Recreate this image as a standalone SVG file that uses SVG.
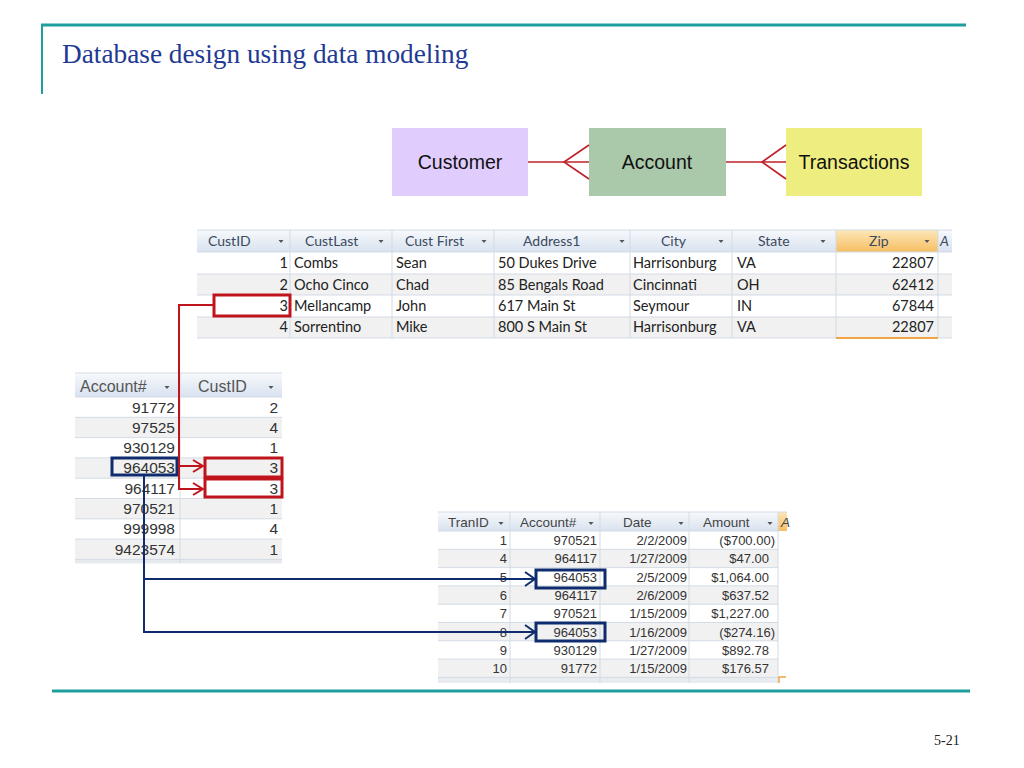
<svg xmlns="http://www.w3.org/2000/svg" width="1024" height="768" viewBox="0 0 1024 768">
<defs>
<linearGradient id="hdr" x1="0" y1="0" x2="0" y2="1">
<stop offset="0" stop-color="#f7f9fc"/><stop offset="1" stop-color="#d8e2ef"/>
</linearGradient>
<linearGradient id="hdrO" x1="0" y1="0" x2="0" y2="1">
<stop offset="0" stop-color="#fde7b8"/><stop offset="1" stop-color="#f6be62"/>
</linearGradient>
<marker id="chevR" viewBox="0 0 12 14" refX="11" refY="7" markerWidth="12" markerHeight="14" markerUnits="userSpaceOnUse" orient="auto">
<polyline points="1,1 11,7 1,13" fill="none" stroke="#c0141c" stroke-width="2"/>
</marker>
<marker id="chevB" viewBox="0 0 12 16" refX="11" refY="8" markerWidth="12" markerHeight="16" markerUnits="userSpaceOnUse" orient="auto">
<polyline points="1,1 11,8 1,15" fill="none" stroke="#0f2d6e" stroke-width="2"/>
</marker>
</defs>
<style>
.title{font-family:"Liberation Serif",serif;font-size:27.3px;fill:#1f3a93}
.pg{font-family:"Liberation Serif",serif;font-size:14px;fill:#222}
.er{font-family:"Liberation Sans",Arial,sans-serif;font-size:19.5px;fill:#111;text-anchor:middle}
.ch{font-family:Lato,"Liberation Sans",sans-serif;font-size:14px;fill:#3c4a60}
.cb{font-family:Lato,"Liberation Sans",sans-serif;font-size:14.5px;fill:#222}
.ah{font-family:"Liberation Sans",Arial,sans-serif;font-size:16px;fill:#555}
.ab{font-family:"Liberation Sans",Arial,sans-serif;font-size:15.5px;fill:#333;text-anchor:end}
.th{font-family:"Liberation Sans",Arial,sans-serif;font-size:13.5px;fill:#444}
.tb{font-family:"Liberation Sans",Arial,sans-serif;font-size:13px;fill:#333;text-anchor:end}
.r{text-anchor:end}
.grid{stroke:#d3dbe6;stroke-width:1}
.alt{fill:#f1f1f1}
.dd{fill:#555}
.redbox{fill:none;stroke:#c0141c;stroke-width:3}
.bluebox{fill:none;stroke:#0f2d6e;stroke-width:3}
.crow{fill:none;stroke:#c0202a;stroke-width:1.6}
</style>
<rect width="1024" height="768" fill="#ffffff"/>

<!-- slide frame -->
<g id="frame">
<line x1="41" y1="25" x2="966" y2="25" stroke="#1f9e9e" stroke-width="3"/>
<line x1="42" y1="24" x2="42" y2="94" stroke="#1f9e9e" stroke-width="2"/>
<line x1="52" y1="691" x2="970" y2="691" stroke="#1f9e9e" stroke-width="3"/>
<text class="title" x="62" y="63">Database design using data modeling</text>
<text class="pg" x="934" y="745">5-21</text>
</g>

<!-- ER nodes -->
<g id="er-customer">
<rect x="392" y="128" width="136" height="68" fill="#e0ccfd"/>
<text class="er" x="460" y="169">Customer</text>
</g>
<g id="er-account">
<rect x="589" y="128" width="137" height="68" fill="#aac8aa"/>
<text class="er" x="657" y="169">Account</text>
</g>
<g id="er-transactions">
<rect x="786" y="128" width="136" height="68" fill="#eeee80"/>
<text class="er" x="854" y="169">Transactions</text>
</g>

<!-- Customer table -->
<g id="customer-table">
<rect x="197" y="230" width="755" height="22" fill="url(#hdr)"/>
<rect x="836" y="230" width="102" height="22" fill="url(#hdrO)"/>
<rect x="197" y="252" width="755" height="22" fill="#fff"/>
<rect class="alt" x="197" y="274" width="755" height="21"/>
<rect x="197" y="295" width="755" height="22" fill="#fff"/>
<rect class="alt" x="197" y="317" width="755" height="21"/>
<g class="grid">
<line x1="197" y1="230" x2="952" y2="230"/>
<line x1="197" y1="252" x2="952" y2="252"/>
<line x1="197" y1="274" x2="952" y2="274"/>
<line x1="197" y1="295" x2="952" y2="295"/>
<line x1="197" y1="317" x2="952" y2="317"/>
<line x1="197" y1="338" x2="952" y2="338"/>
<line x1="290" y1="230" x2="290" y2="338"/>
<line x1="392" y1="230" x2="392" y2="338"/>
<line x1="494" y1="230" x2="494" y2="338"/>
<line x1="630" y1="230" x2="630" y2="338"/>
<line x1="732" y1="230" x2="732" y2="338"/>
<line x1="836" y1="230" x2="836" y2="338"/>
<line x1="938" y1="230" x2="938" y2="338"/>
</g>
<line x1="836" y1="338" x2="938" y2="338" stroke="#f2a444" stroke-width="2"/>
<text class="ch" x="208" y="246">CustID</text>
<text class="ch" x="305" y="246">CustLast</text>
<text class="ch" x="405" y="246">Cust First</text>
<text class="ch" x="523" y="246">Address1</text>
<text class="ch" x="661" y="246">City</text>
<text class="ch" x="758" y="246">State</text>
<text class="ch" x="869" y="246">Zip</text>
<text class="ch" x="940" y="246" font-style="italic">A</text>
<g class="dd">
<polygon points="278.5,240 283.5,240 281,243"/>
<polygon points="378.5,240 383.5,240 381,243"/>
<polygon points="481.5,240 486.5,240 484,243"/>
<polygon points="619.5,240 624.5,240 622,243"/>
<polygon points="718.5,240 723.5,240 721,243"/>
<polygon points="820.5,240 825.5,240 823,243"/>
<polygon points="924.5,240 929.5,240 927,243"/>
</g>
<text class="cb r" x="288" y="268">1</text>
<text class="cb" x="294" y="268">Combs</text>
<text class="cb" x="396" y="268">Sean</text>
<text class="cb" x="498" y="268">50 Dukes Drive</text>
<text class="cb" x="633" y="268">Harrisonburg</text>
<text class="cb" x="737" y="268">VA</text>
<text class="cb r" x="934" y="268">22807</text>
<text class="cb r" x="288" y="290">2</text>
<text class="cb" x="294" y="290">Ocho Cinco</text>
<text class="cb" x="396" y="290">Chad</text>
<text class="cb" x="498" y="290">85 Bengals Road</text>
<text class="cb" x="633" y="290">Cincinnati</text>
<text class="cb" x="737" y="290">OH</text>
<text class="cb r" x="934" y="290">62412</text>
<text class="cb r" x="288" y="311">3</text>
<text class="cb" x="294" y="311">Mellancamp</text>
<text class="cb" x="396" y="311">John</text>
<text class="cb" x="498" y="311">617 Main St</text>
<text class="cb" x="633" y="311">Seymour</text>
<text class="cb" x="737" y="311">IN</text>
<text class="cb r" x="934" y="311">67844</text>
<text class="cb r" x="288" y="332">4</text>
<text class="cb" x="294" y="332">Sorrentino</text>
<text class="cb" x="396" y="332">Mike</text>
<text class="cb" x="498" y="332">800 S Main St</text>
<text class="cb" x="633" y="332">Harrisonburg</text>
<text class="cb" x="737" y="332">VA</text>
<text class="cb r" x="934" y="332">22807</text>
</g>

<!-- Account table -->
<g id="account-table">
<rect x="75" y="373" width="207" height="24" fill="url(#hdr)"/>
<rect x="75" y="397" width="207" height="166" fill="#fff"/>
<rect class="alt" x="75" y="417.3" width="207" height="20.3"/>
<rect class="alt" x="75" y="457.9" width="207" height="20.3"/>
<rect class="alt" x="75" y="498.5" width="207" height="20.3"/>
<rect class="alt" x="75" y="539.1" width="207" height="20.3"/>
<rect x="75" y="559.4" width="207" height="4" fill="#e6e9ee"/>
<g class="grid">
<line x1="75" y1="373" x2="282" y2="373"/>
<line x1="75" y1="397" x2="282" y2="397"/>
<line x1="75" y1="417.3" x2="282" y2="417.3"/>
<line x1="75" y1="437.6" x2="282" y2="437.6"/>
<line x1="75" y1="457.9" x2="282" y2="457.9"/>
<line x1="75" y1="478.2" x2="282" y2="478.2"/>
<line x1="75" y1="498.5" x2="282" y2="498.5"/>
<line x1="75" y1="518.8" x2="282" y2="518.8"/>
<line x1="75" y1="539.1" x2="282" y2="539.1"/>
<line x1="75" y1="559.4" x2="282" y2="559.4"/>
<line x1="180" y1="373" x2="180" y2="563"/>
</g>
<text class="ah" x="80" y="392">Account#</text>
<text class="ah" x="198" y="392">CustID</text>
<g class="dd">
<polygon points="164.5,386 169.5,386 167,389"/>
<polygon points="268.5,386 273.5,386 271,389"/>
</g>
<text class="ab" x="175" y="412.5">91772</text>
<text class="ab" x="278" y="412.5">2</text>
<text class="ab" x="175" y="432.8">97525</text>
<text class="ab" x="278" y="432.8">4</text>
<text class="ab" x="175" y="453.1">930129</text>
<text class="ab" x="278" y="453.1">1</text>
<text class="ab" x="175" y="473.4">964053</text>
<text class="ab" x="278" y="473.4">3</text>
<text class="ab" x="175" y="493.7">964117</text>
<text class="ab" x="278" y="493.7">3</text>
<text class="ab" x="175" y="514">970521</text>
<text class="ab" x="278" y="514">1</text>
<text class="ab" x="175" y="534.3">999998</text>
<text class="ab" x="278" y="534.3">4</text>
<text class="ab" x="175" y="554.6">9423574</text>
<text class="ab" x="278" y="554.6">1</text>
</g>

<!-- Transactions table -->
<g id="transactions-table">
<rect x="438" y="512" width="349" height="19" fill="url(#hdr)"/>
<rect x="778" y="512" width="9" height="19" fill="url(#hdrO)"/>
<rect x="438" y="531" width="340" height="152" fill="#fff"/>
<rect class="alt" x="438" y="549.3" width="340" height="18.3"/>
<rect class="alt" x="438" y="585.9" width="340" height="18.3"/>
<rect class="alt" x="438" y="622.5" width="340" height="18.3"/>
<rect class="alt" x="438" y="659.1" width="340" height="18.3"/>
<rect x="438" y="677.4" width="340" height="5.6" fill="#e8ebf0"/>
<g class="grid">
<line x1="438" y1="512" x2="787" y2="512"/>
<line x1="438" y1="531" x2="778" y2="531"/>
<line x1="438" y1="549.3" x2="778" y2="549.3"/>
<line x1="438" y1="567.6" x2="778" y2="567.6"/>
<line x1="438" y1="585.9" x2="778" y2="585.9"/>
<line x1="438" y1="604.2" x2="778" y2="604.2"/>
<line x1="438" y1="622.5" x2="778" y2="622.5"/>
<line x1="438" y1="640.8" x2="778" y2="640.8"/>
<line x1="438" y1="659.1" x2="778" y2="659.1"/>
<line x1="438" y1="677.4" x2="778" y2="677.4"/>
<line x1="510" y1="512" x2="510" y2="683"/>
<line x1="600" y1="512" x2="600" y2="683"/>
<line x1="689" y1="512" x2="689" y2="683"/>
<line x1="778" y1="512" x2="778" y2="683"/>
</g>
<polyline points="779,683 779,677 786,677" fill="none" stroke="#f2a444" stroke-width="1.5"/>
<text class="th" x="448" y="527">TranID</text>
<text class="th" x="520" y="527">Account#</text>
<text class="th" x="623" y="527">Date</text>
<text class="th" x="703" y="527">Amount</text>
<text class="th" x="781" y="527" font-style="italic">A</text>
<g class="dd">
<polygon points="498.5,522 503.5,522 501,525"/>
<polygon points="588.5,522 593.5,522 591,525"/>
<polygon points="678.5,522 683.5,522 681,525"/>
<polygon points="767.5,522 772.5,522 770,525"/>
</g>
<text class="tb" x="507" y="545">1</text><text class="tb" x="597" y="545">970521</text><text class="tb" x="687" y="545">2/2/2009</text><text class="tb" x="775" y="545">($700.00)</text>
<text class="tb" x="507" y="563.3">4</text><text class="tb" x="597" y="563.3">964117</text><text class="tb" x="687" y="563.3">1/27/2009</text><text class="tb" x="769" y="563.3">$47.00</text>
<text class="tb" x="507" y="581.6">5</text><text class="tb" x="597" y="581.6">964053</text><text class="tb" x="687" y="581.6">2/5/2009</text><text class="tb" x="769" y="581.6">$1,064.00</text>
<text class="tb" x="507" y="599.9">6</text><text class="tb" x="597" y="599.9">964117</text><text class="tb" x="687" y="599.9">2/6/2009</text><text class="tb" x="769" y="599.9">$637.52</text>
<text class="tb" x="507" y="618.2">7</text><text class="tb" x="597" y="618.2">970521</text><text class="tb" x="687" y="618.2">1/15/2009</text><text class="tb" x="769" y="618.2">$1,227.00</text>
<text class="tb" x="507" y="636.5">8</text><text class="tb" x="597" y="636.5">964053</text><text class="tb" x="687" y="636.5">1/16/2009</text><text class="tb" x="775" y="636.5">($274.16)</text>
<text class="tb" x="507" y="654.8">9</text><text class="tb" x="597" y="654.8">930129</text><text class="tb" x="687" y="654.8">1/27/2009</text><text class="tb" x="769" y="654.8">$892.78</text>
<text class="tb" x="507" y="673.1">10</text><text class="tb" x="597" y="673.1">91772</text><text class="tb" x="687" y="673.1">1/15/2009</text><text class="tb" x="769" y="673.1">$176.57</text>
</g>

<!-- Connectors -->
<g id="connectors">
<g id="er-links">
<line class="crow" x1="528" y1="162" x2="589" y2="162"/>
<polyline class="crow" points="589,145 564,162 589,179"/>
<line class="crow" x1="726" y1="162" x2="786" y2="162"/>
<polyline class="crow" points="786,145 762,162 786,179"/>
</g>
<g id="highlights">
<rect class="redbox" x="214" y="295" width="76" height="21"/>
<rect class="redbox" x="205" y="458" width="77" height="19"/>
<rect class="redbox" x="205" y="479" width="77" height="18"/>
<rect class="bluebox" x="112" y="458" width="65" height="17"/>
<rect class="bluebox" x="536" y="570" width="69" height="18"/>
<rect class="bluebox" x="536" y="623" width="69" height="18"/>
</g>
<g id="fk-cust" fill="none" stroke="#c0141c" stroke-width="2">
<polyline points="214,305 179,305 179,489 203,489" marker-end="url(#chevR)"/>
<line x1="179" y1="466" x2="203" y2="466" marker-end="url(#chevR)"/>
</g>
<g id="fk-acct" fill="none" stroke="#0f2d6e" stroke-width="2">
<polyline points="144,475 144,632 535,632" marker-end="url(#chevB)"/>
<line x1="144" y1="579" x2="535" y2="579" marker-end="url(#chevB)"/>
</g>
</g>
</svg>
